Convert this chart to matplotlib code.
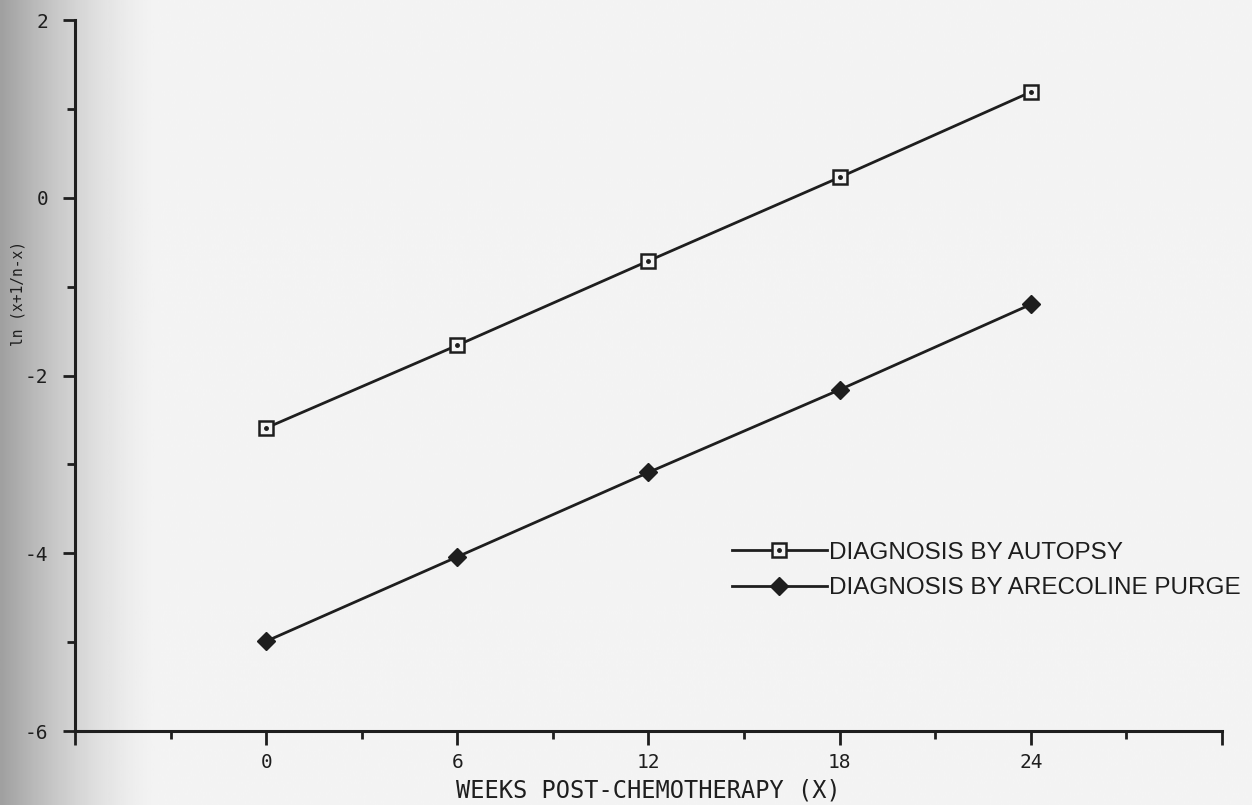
import matplotlib.pyplot as plt
import numpy as np
from matplotlib.legend_handler import HandlerTuple
from matplotlib.ticker import FixedLocator, FuncFormatter

weeks = [0, 6, 12, 18, 24]
autopsy = [-2.59, -1.66, -0.71, 0.23, 1.19]
arecoline = [-4.99, -4.04, -3.09, -2.16, -1.20]

label_autopsy = 'DIAGNOSIS BY AUTOPSY'
label_arecoline = 'DIAGNOSIS BY ARECOLINE PURGE'
xlabel = 'WEEKS POST-CHEMOTHERAPY (X)'
ylabel = 'ln (x+1/n-x)'

ink = '#1e1e1e'
mono = 'DejaVu Sans Mono'
plt.rcParams['axes.unicode_minus'] = False

fig = plt.figure(figsize=(12.52, 8.05), dpi=100)
fig.patch.set_facecolor('#f2f2f2')

# scanned page shading on the left edge
bg = fig.add_axes([0, 0, 1, 1], zorder=-10)
u = np.linspace(0, 1, 600)
shade = 0.955 - 0.33 * np.clip(1 - u / 0.13, 0, 1) ** 1.6
bg.imshow(np.tile(shade, (2, 1)), cmap='gray', vmin=0, vmax=1, aspect='auto',
          extent=[0, 1, 0, 1])
bg.axis('off')

ax = fig.add_axes([0.0599, 0.0919, 0.9161, 0.8832])
ax.patch.set_alpha(0)

l1, = ax.plot(weeks, autopsy, color=ink, lw=2, marker='s', ms=10,
              mfc='#f4f4f4', mec=ink, mew=1.8)
d1, = ax.plot(weeks, autopsy, ls='none', marker='o', ms=2.5, color=ink)
l2, = ax.plot(weeks, arecoline, color=ink, lw=2, marker='D', ms=9,
              mfc=ink, mec=ink)

ax.set_xlim(-6, 30)
ax.set_ylim(-6, 2)

for s in ['top', 'right']:
    ax.spines[s].set_visible(False)
for s in ['left', 'bottom']:
    ax.spines[s].set_linewidth(2.2)
    ax.spines[s].set_color(ink)

ax.xaxis.set_major_locator(FixedLocator([-6, 0, 6, 12, 18, 24, 30]))
ax.xaxis.set_minor_locator(FixedLocator([-3, 3, 9, 15, 21, 27]))
ax.xaxis.set_major_formatter(FuncFormatter(lambda v, p: '' if v in (-6, 30) else '%d' % v))
ax.yaxis.set_major_locator(FixedLocator([-6, -4, -2, 0, 2]))
ax.yaxis.set_minor_locator(FixedLocator([-5, -3, -1, 1]))

ax.tick_params(axis='x', which='major', length=10, width=2, color=ink, pad=6,
               labelsize=14, labelcolor=ink)
ax.tick_params(axis='x', which='minor', length=6, width=2, color=ink)
ax.tick_params(axis='y', which='major', length=9, width=2, color=ink, pad=10,
               labelsize=14, labelcolor=ink)
ax.tick_params(axis='y', which='minor', length=6, width=2, color=ink)
for t in ax.get_xticklabels() + ax.get_yticklabels():
    t.set_family(mono)

ax.set_xlabel(xlabel, family=mono, fontsize=17, color=ink, labelpad=4.5)
ax.set_ylabel(ylabel, family=mono, fontsize=10.5, color=ink)
ax.yaxis.set_label_coords(-0.043, 0.616)

ax.legend([(l1, d1), l2], [label_autopsy, label_arecoline],
          handler_map={tuple: HandlerTuple(ndivide=1)},
          loc='upper left', bbox_to_anchor=(0.562, 0.283), frameon=False,
          borderpad=0, handlelength=3.9, handletextpad=0.1, labelspacing=0.55,
          prop={'family': 'Liberation Sans', 'size': 17.5}, labelcolor=ink)

fig.savefig('out.png', dpi=100, facecolor=fig.get_facecolor())
